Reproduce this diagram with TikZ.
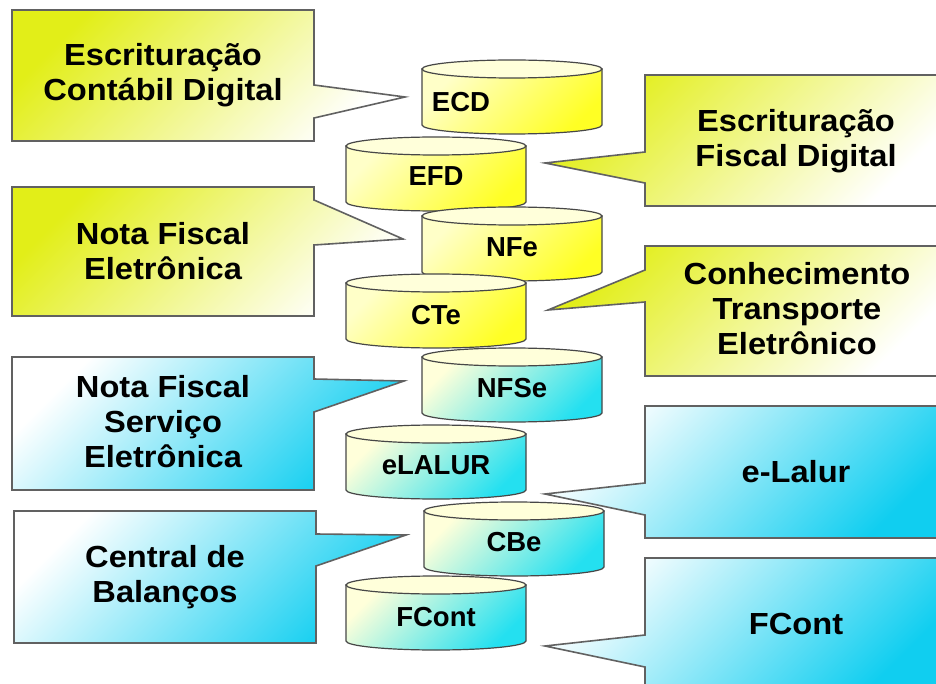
\documentclass[tikz,border=0pt]{standalone}
\usepackage{fontspec}
\setmainfont{Liberation Sans}
\newfontfamily\calloutfont[FakeStretch=1.07]{Liberation Sans}

\begin{document}
\begin{tikzpicture}[x=1pt, y=1pt]

	\def\xl{436}
	\def\xr{512}
	\def\cylrx{90}
	\def\cylry{9}
	\def\cylh{56}

	\def\bxa{12}
	\def\bxb{314}
	\def\bxc{645}
	\def\bxd{947}

	% Colours
	\definecolor{boxyellow}{RGB}{226,238,24}
	\definecolor{boxcyan}{RGB}{16,206,240}
	\definecolor{cylyellow}{RGB}{255,255,36}
	\definecolor{cylcyan}{RGB}{36,224,240}
	\definecolor{cylcream}{RGB}{255,255,218}
	\colorlet{boxline}{black!62}
	\colorlet{cylline}{black!72}

	% Styles
	\tikzstyle{ybox}=[draw=boxline, line width=1.6pt, top color=boxyellow, middle color=boxyellow!75!white, bottom color=white, shading angle=45]
	\tikzstyle{cbox}=[draw=boxline, line width=1.6pt, top color=white, middle color=boxcyan!40!white, bottom color=boxcyan, shading angle=45]
	\tikzstyle{ybody}=[draw=cylline, line width=1.2pt, top color=cylyellow!25!white, bottom color=cylyellow, shading angle=45]
	\tikzstyle{cbody}=[draw=cylline, line width=1.2pt, top color=cylcream, bottom color=cylcyan, shading angle=45]
	\tikzstyle{cyltop}=[draw=cylline, line width=1.2pt, fill=cylcream]
	\tikzstyle{boxtext}=[align=center, font=\calloutfont\fontsize{30.5}{35}\selectfont\bfseries]
	\tikzstyle{cyllabel}=[font=\fontsize{27.5}{30}\selectfont\bfseries]

	\useasboundingbox[fill=white] (0,0) rectangle (936,-684);

	%== Callouts, left =======================================================
	\shadedraw[ybox] (\bxa,-10) -- (\bxb,-10) -- (\bxb,-85) -- (405,-97) -- (\bxb,-118) -- (\bxb,-141) -- (\bxa,-141) -- cycle;
	\node[boxtext] (ecdtext) at (163,-75) {Escrituração\\Contábil Digital};

	\shadedraw[ybox] (\bxa,-187) -- (\bxb,-187) -- (\bxb,-200) -- (403,-239) -- (\bxb,-245) -- (\bxb,-316) -- (\bxa,-316) -- cycle;
	\node[boxtext] (nfetext) at (163,-251) {Nota Fiscal\\Eletrônica};

	\shadedraw[cbox] (\bxa,-357) -- (\bxb,-357) -- (\bxb,-379) -- (404,-381) -- (\bxb,-412) -- (\bxb,-490) -- (\bxa,-490) -- cycle;
	\node[boxtext] (nfsetext) at (163,-422) {Nota Fiscal\\Serviço\\Eletrônica};

	\shadedraw[cbox] (\bxa+2,-511) -- (\bxb+2,-511) -- (\bxb+2,-534) -- (406,-535) -- (\bxb+2,-566) -- (\bxb+2,-643) -- (\bxa+2,-643) -- cycle;
	\node[boxtext] (cbetext) at (165,-577) {Central de\\Balanços};

	%== Callouts, right ======================================================
	\shadedraw[ybox] (\bxd,-75) -- (\bxc,-75) -- (\bxc,-152) -- (545,-163) -- (\bxc,-183) -- (\bxc,-206) -- (\bxd,-206) -- cycle;
	\node[boxtext] (efdtext) at (796,-141) {Escrituração\\Fiscal Digital};

	\shadedraw[ybox] (\bxd,-246) -- (\bxc,-246) -- (\bxc,-270) -- (548,-310) -- (\bxc,-302) -- (\bxc,-376) -- (\bxd,-376) -- cycle;
	\node[boxtext] (ctetext) at (797,-309) {Conhecimento\\Transporte\\Eletrônico};

	\shadedraw[cbox] (\bxd,-406) -- (\bxc,-406) -- (\bxc,-483) -- (545,-494) -- (\bxc,-515) -- (\bxc,-538) -- (\bxd,-538) -- cycle;
	\node[boxtext] (lalurtext) at (796,-472) {e-Lalur};

	\shadedraw[cbox] (\bxd,-558) -- (\bxc,-558) -- (\bxc,-635) -- (545,-646) -- (\bxc,-667) -- (\bxc,-690) -- (\bxd,-690) -- cycle;
	\node[boxtext] (fconttext) at (796,-624) {FCont};

	%== Cylinders ============================================================
	% ECD
	\shadedraw[ybody] (\xr-\cylrx,-69) -- ++(0,-\cylh) arc(180:360:{\cylrx} and {\cylry}) -- ++(0,\cylh) -- cycle;
	\filldraw[cyltop] (\xr,-69) ellipse ({\cylrx} and {\cylry});
	\node[cyllabel] (ecd) at (461,-102) {ECD};

	% EFD
	\shadedraw[ybody] (\xl-\cylrx,-146) -- ++(0,-\cylh) arc(180:360:{\cylrx} and {\cylry}) -- ++(0,\cylh) -- cycle;
	\filldraw[cyltop] (\xl,-146) ellipse ({\cylrx} and {\cylry});
	\node[cyllabel] (efd) at (\xl,-176) {EFD};

	% NFe
	\shadedraw[ybody] (\xr-\cylrx,-216) -- ++(0,-\cylh) arc(180:360:{\cylrx} and {\cylry}) -- ++(0,\cylh) -- cycle;
	\filldraw[cyltop] (\xr,-216) ellipse ({\cylrx} and {\cylry});
	\node[cyllabel] (nfe) at (\xr,-247) {NFe};

	% CTe
	\shadedraw[ybody] (\xl-\cylrx,-283) -- ++(0,-\cylh) arc(180:360:{\cylrx} and {\cylry}) -- ++(0,\cylh) -- cycle;
	\filldraw[cyltop] (\xl,-283) ellipse ({\cylrx} and {\cylry});
	\node[cyllabel] (cte) at (\xl,-315) {CTe};

	% NFSe
	\shadedraw[cbody] (\xr-\cylrx,-357) -- ++(0,-\cylh) arc(180:360:{\cylrx} and {\cylry}) -- ++(0,\cylh) -- cycle;
	\filldraw[cyltop] (\xr,-357) ellipse ({\cylrx} and {\cylry});
	\node[cyllabel] (nfse) at (\xr,-388) {NFSe};

	% eLALUR
	\shadedraw[cbody] (\xl-\cylrx,-434) -- ++(0,-\cylh) arc(180:360:{\cylrx} and {\cylry}) -- ++(0,\cylh) -- cycle;
	\filldraw[cyltop] (\xl,-434) ellipse ({\cylrx} and {\cylry});
	\node[cyllabel] (elalur) at (\xl,-465) {eLALUR};

	% CBe
	\shadedraw[cbody] (\xr+2-\cylrx,-511) -- ++(0,-\cylh) arc(180:360:{\cylrx} and {\cylry}) -- ++(0,\cylh) -- cycle;
	\filldraw[cyltop] (\xr+2,-511) ellipse ({\cylrx} and {\cylry});
	\node[cyllabel] (cbe) at (\xr+2,-542) {CBe};

	% FCont
	\shadedraw[cbody] (\xl-\cylrx,-585) -- ++(0,-\cylh) arc(180:360:{\cylrx} and {\cylry}) -- ++(0,\cylh) -- cycle;
	\filldraw[cyltop] (\xl,-585) ellipse ({\cylrx} and {\cylry});
	\node[cyllabel] (fcont) at (\xl,-617) {FCont};

\end{tikzpicture}
\end{document}
